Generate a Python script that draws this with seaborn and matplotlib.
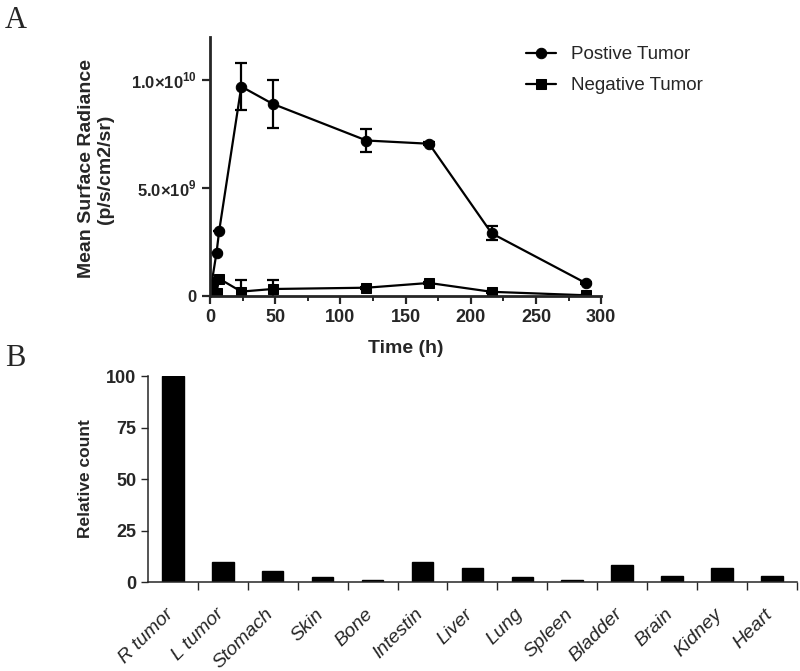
import numpy as np
import pandas as pd
import matplotlib
matplotlib.use("Agg")
import matplotlib.pyplot as plt
import matplotlib.transforms as mtransforms
import seaborn as sns
from matplotlib.ticker import MultipleLocator, FixedLocator

# panel A: mean surface radiance over time
times = [1, 5, 7, 24, 48, 120, 168, 216, 288]
pos_tumor = [0.5e9, 2.0e9, 3.0e9, 9.7e9, 8.9e9, 7.2e9, 7.05e9, 2.9e9, 0.6e9]
pos_err = [0.0, 0.0, 0.0, 1.1e9, 1.1e9, 0.55e9, 0.08e9, 0.33e9, 0.05e9]
neg_tumor = [0.5e9, 0.15e9, 0.8e9, 0.2e9, 0.32e9, 0.38e9, 0.6e9, 0.19e9, 0.03e9]
neg_err = [0.05e9, 0.05e9, 0.05e9, 0.55e9, 0.4e9, 0.05e9, 0.05e9, 0.05e9, 0.02e9]
y_ticks = [0, 5e9, 1e10]
y_ticklabels = ["0", r"5.0×10$^{\mathbf{9}}$", r"1.0×10$^{\mathbf{10}}$"]

# panel B: relative count per organ
organs = ["R tumor", "L tumor", "Stomach", "Skin", "Bone", "Intestin", "Liver",
          "Lung", "Spleen", "Bladder", "Brain", "Kidney", "Heart"]
rel_count = [100, 9.6, 5.3, 2.3, 0.8, 9.6, 6.6, 2.2, 0.8, 8.3, 2.8, 6.6, 2.8]

sns.set_style("ticks")
plt.rcParams["font.family"] = ["Liberation Sans", "DejaVu Sans"]
plt.rcParams["mathtext.fontset"] = "custom"
plt.rcParams["mathtext.bf"] = "Liberation Sans:bold"
plt.rcParams["mathtext.rm"] = "Liberation Sans:bold"

fig = plt.figure(figsize=(8, 6.71), dpi=100)

# ---- panel A
ax1 = fig.add_axes([0.2625, 0.559, 0.489, 0.386])
sns.lineplot(x=times, y=pos_tumor, ax=ax1, color="black", marker="o",
             markersize=7.5, linewidth=1.6, markeredgecolor="black", label="Postive Tumor")
sns.lineplot(x=times, y=neg_tumor, ax=ax1, color="black", marker="s",
             markersize=7.5, linewidth=1.6, markeredgecolor="black", label="Negative Tumor")
ax1.errorbar(times, pos_tumor, yerr=pos_err, fmt="none", ecolor="black",
             elinewidth=1.6, capsize=4, capthick=1.6)
ax1.errorbar(times, neg_tumor, yerr=neg_err, fmt="none", ecolor="black",
             elinewidth=1.6, capsize=4, capthick=1.6)

ax1.set_xlim(0, 300)
ax1.set_ylim(0, 1.2e10)
ax1.xaxis.set_major_locator(MultipleLocator(50))
ax1.xaxis.set_minor_locator(MultipleLocator(25))
ax1.set_yticks(y_ticks)
ax1.set_yticklabels(y_ticklabels)
for lab in ax1.get_xticklabels() + ax1.get_yticklabels():
    lab.set_fontweight("bold")
ax1.tick_params(axis="x", labelsize=13, width=1.6, length=6)
ax1.tick_params(axis="y", labelsize=12, width=1.6, length=6)
ax1.tick_params(axis="x", which="minor", width=1.4, length=3.5)
sns.despine(ax=ax1)
for side in ["left", "bottom"]:
    ax1.spines[side].set_linewidth(2)

ax1.set_xlabel("Time (h)", fontsize=14, fontweight="bold", labelpad=10)
ax1.set_ylabel("Mean Surface Radiance\n(p/s/cm2/sr)", fontsize=14,
               fontweight="bold", linespacing=1.15)
ax1.yaxis.set_label_coords(-0.245, 0.49)

leg = ax1.legend(loc="upper left", bbox_to_anchor=(0.765, 1.03), frameon=False,
                 fontsize=13.5, handlelength=1.6, labelspacing=0.75, handletextpad=0.8)

# ---- panel B
ax2 = fig.add_axes([0.185, 0.1326, 0.811, 0.307])
sns.barplot(x=organs, y=rel_count, ax=ax2, color="black", width=0.43,
            saturation=1, edgecolor="black")
ax2.set_xlim(-0.5, len(organs) - 0.5)
ax2.set_ylim(0, 100)
ax2.set_yticks([0, 25, 50, 75, 100])
ax2.xaxis.set_minor_locator(FixedLocator(np.arange(0.5, len(organs), 1.0)))
ax2.tick_params(axis="x", which="major", length=0, pad=17)
ax2.tick_params(axis="x", which="minor", length=6, width=1)
ax2.tick_params(axis="y", length=5, width=1)
ax2.set_xticks(range(len(organs)))
ax2.set_xticklabels(organs, rotation=45, ha="right", rotation_mode="anchor",
                    fontstyle="italic", fontsize=14)
shift = mtransforms.ScaledTranslation(-8 / 100, 0, fig.dpi_scale_trans)
for lab in ax2.get_xticklabels():
    lab.set_transform(lab.get_transform() + shift)
for lab in ax2.get_yticklabels():
    lab.set_fontweight("bold")
    lab.set_fontsize(13)
    lab.set_family(["Liberation Sans Narrow", "Liberation Sans"])
sns.despine(ax=ax2)
for side in ["left", "bottom"]:
    ax2.spines[side].set_linewidth(1.1)
ax2.set_xlabel("")
ax2.set_ylabel("Relative count", fontsize=12.5, fontweight="bold")
ax2.yaxis.set_label_coords(-0.085, 0.5)

# panel letters
fig.text(0.006, 0.958, "A", fontsize=22, family="Liberation Serif", va="baseline")
fig.text(0.006, 0.455, "B", fontsize=22, family="Liberation Serif", va="baseline")

fig.savefig("out.png", dpi=100)
